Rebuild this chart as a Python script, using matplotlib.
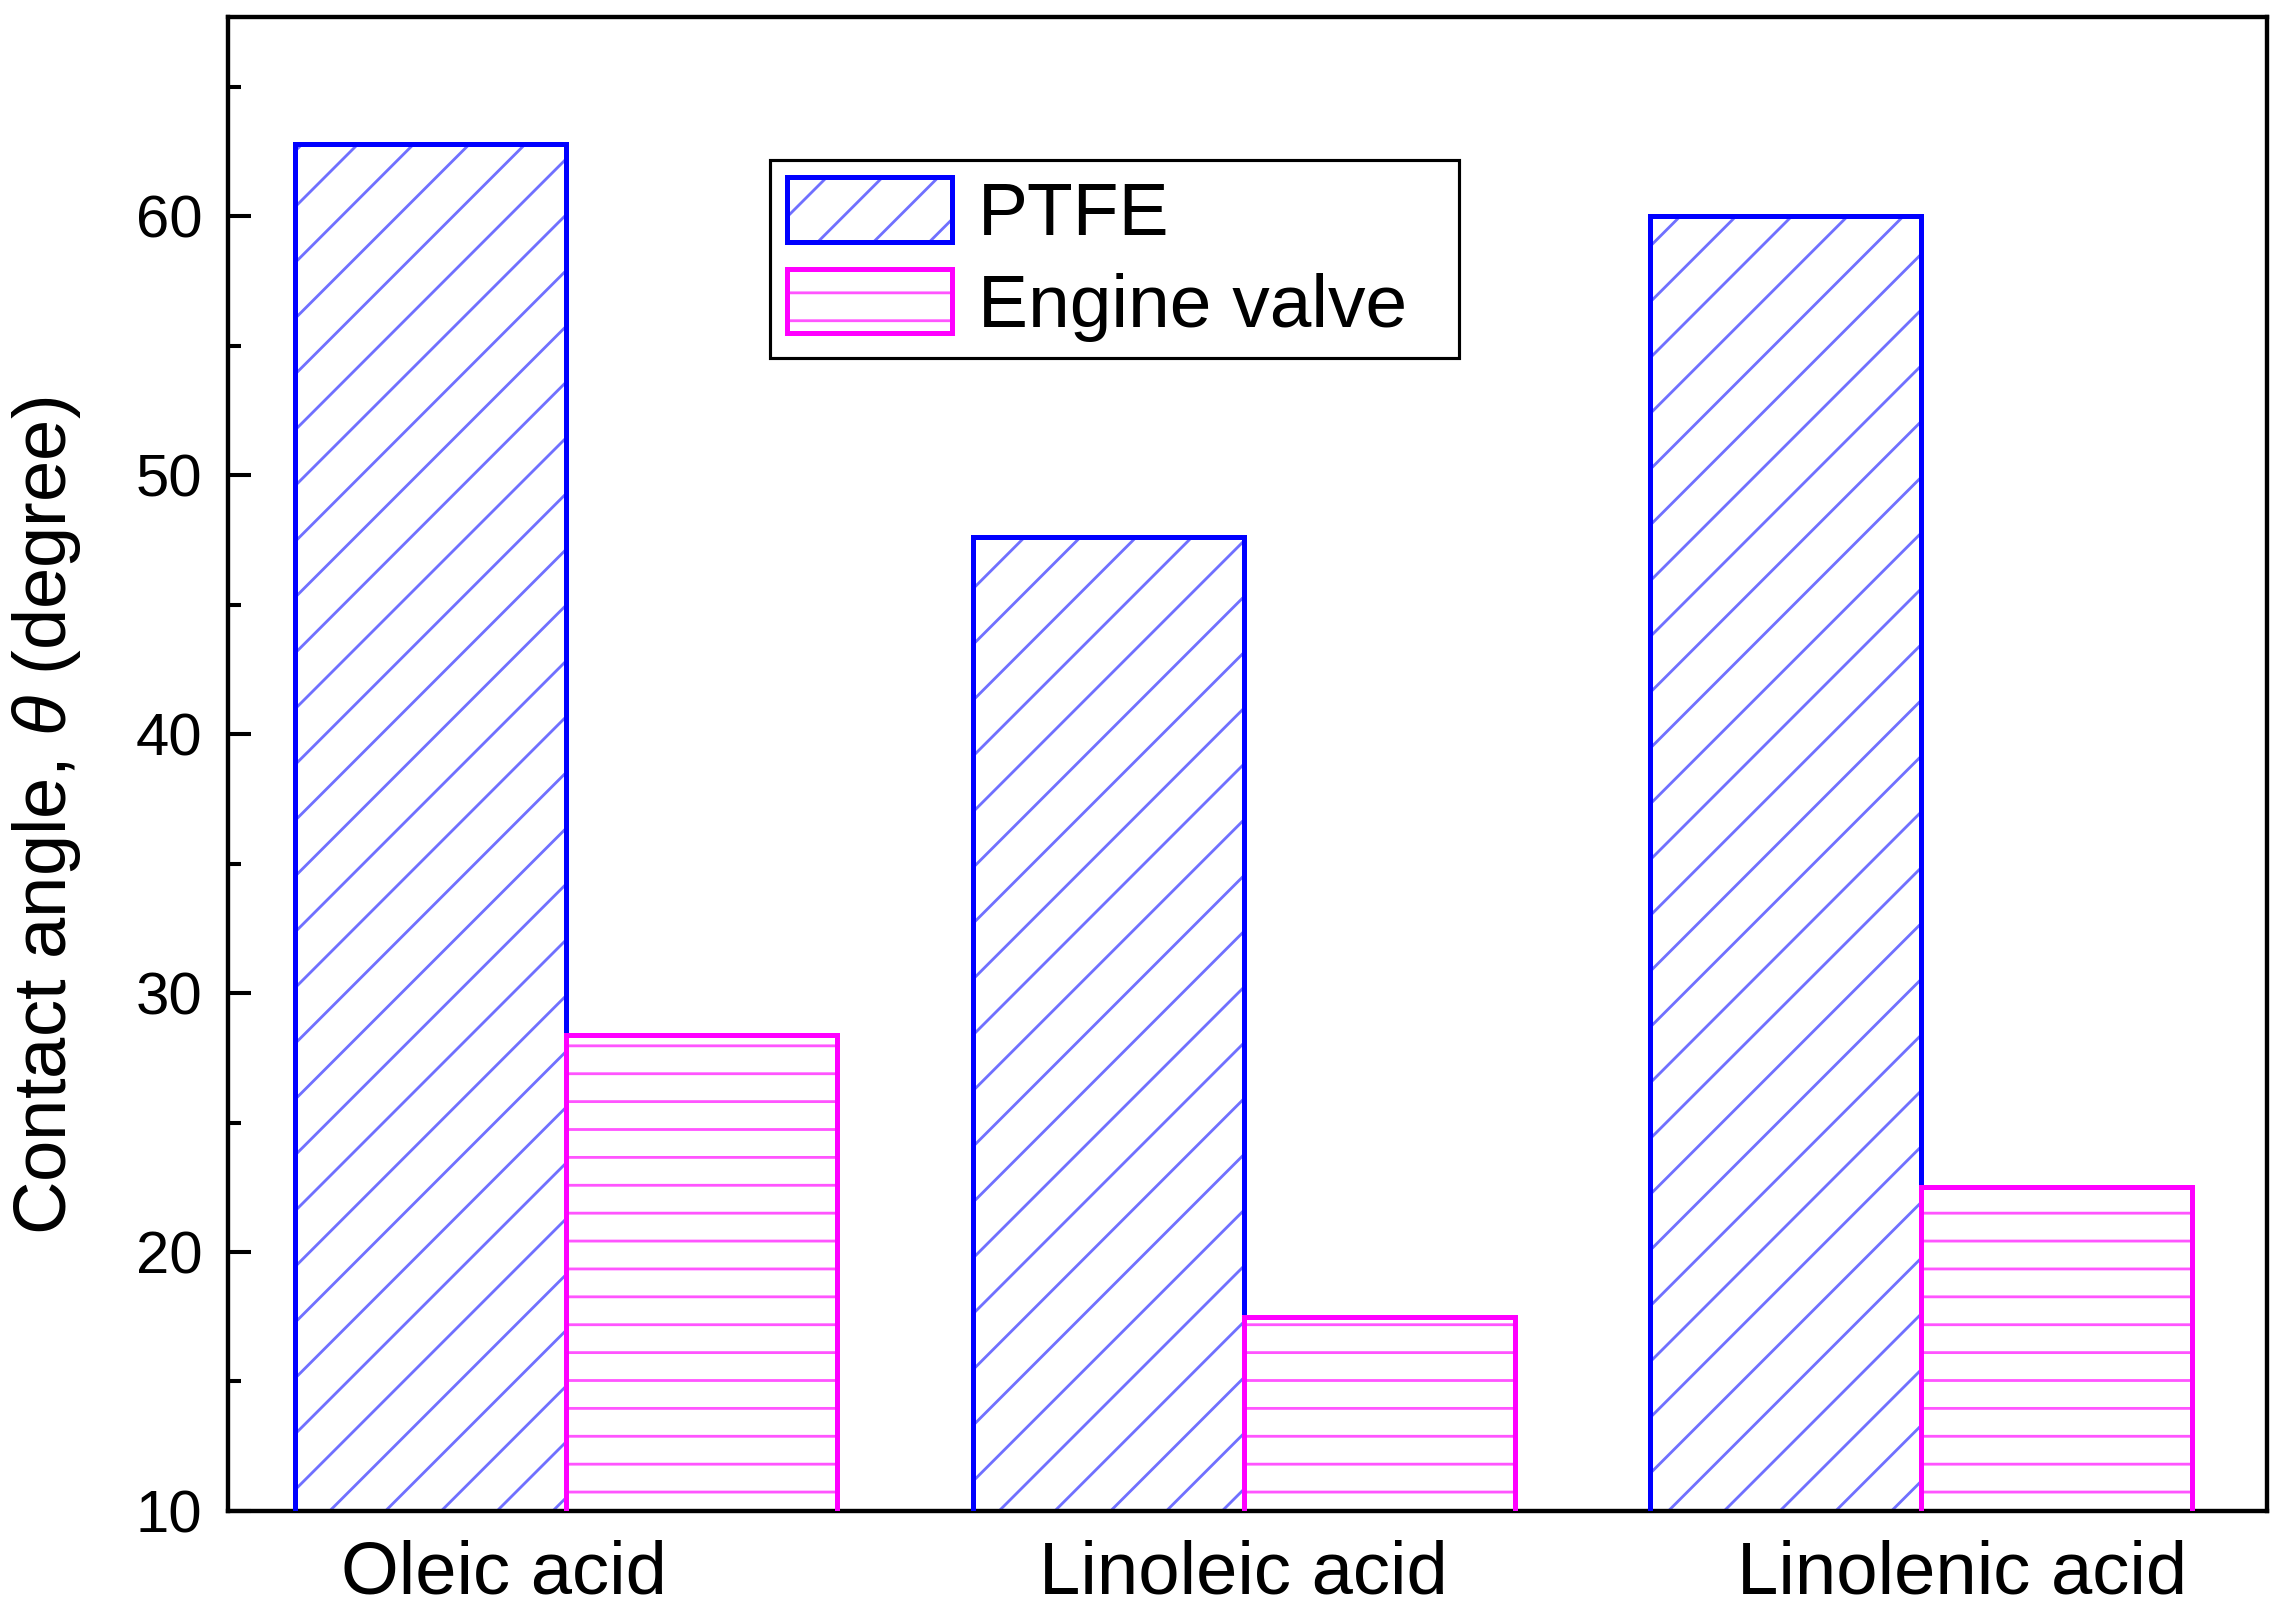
import matplotlib
matplotlib.use("Agg")
import matplotlib.pyplot as plt
import matplotlib.transforms as mtransforms
import numpy as np
from matplotlib.ticker import MultipleLocator

categories = ["Oleic acid", "Linoleic acid", "Linolenic acid"]
series_names = ["PTFE", "Engine valve"]
ptfe = [62.8, 47.6, 60.0]
engine_valve = [28.4, 17.5, 22.5]

DPI = 502
S = 225 / DPI   # point sizes below were tuned for 225 dpi

plt.rcParams['font.family'] = ['Liberation Sans', 'DejaVu Sans']
plt.rcParams['mathtext.fontset'] = 'custom'
plt.rcParams['mathtext.it'] = 'Liberation Sans:italic'
plt.rcParams['mathtext.rm'] = 'Liberation Sans'
plt.rcParams['hatch.linewidth'] = 0.9 * S

fig = plt.figure(figsize=(2276 / DPI, 1616 / DPI), dpi=DPI)
ax = fig.add_axes([0.100, 0.065, 0.896, 0.9245])

x = np.arange(len(categories))
w = 0.4

h1 = ax.bar(x - w / 2, ptfe, width=w, facecolor='white', edgecolor='#7070ff',
            hatch='///', linewidth=0, zorder=2)
e1 = ax.bar(x - w / 2, ptfe, width=w, facecolor='none', edgecolor='#0000ff',
            linewidth=1.6 * S, zorder=3)
h2 = ax.bar(x + w / 2, engine_valve, width=w, facecolor='white', edgecolor='#ff55ff',
            hatch='---', linewidth=0, zorder=2)
e2 = ax.bar(x + w / 2, engine_valve, width=w, facecolor='none', edgecolor='#ff00ff',
            linewidth=1.6 * S, zorder=3)

ax.set_xlim(-0.5, 2.51)
ax.set_ylim(10, 67.7)
ax.set_xticks(x)
ax.set_xticklabels(categories, fontsize=23.8 * S)
ax.tick_params(axis='x', length=0, pad=9 * S)
# small horizontal shifts of the category labels as in the original
for lab, dx in zip(ax.get_xticklabels(), [-20, 0, 13]):
    lab.set_transform(lab.get_transform() +
                      mtransforms.ScaledTranslation(dx * S / 72, 0, fig.dpi_scale_trans))
ax.yaxis.set_major_locator(MultipleLocator(10))
ax.yaxis.set_minor_locator(MultipleLocator(5))
ax.tick_params(axis='y', which='major', direction='in', length=7.4 * S, width=1.3 * S,
               labelsize=19.2 * S, pad=8 * S)
ax.tick_params(axis='y', which='minor', direction='in', length=4.2 * S, width=1.3 * S)
for s in ax.spines.values():
    s.set_linewidth(1.4 * S)

ax.set_ylabel("Contact angle, $\\mathit{\\theta}$ (degree)", fontsize=23.8 * S)
ax.yaxis.set_label_coords(-0.071, 0.465)

leg = ax.legend([(h1[0], e1[0]), (h2[0], e2[0])], series_names,
                loc='upper left', bbox_to_anchor=(0.266, 0.904, 0.338, 0),
                mode='expand', borderaxespad=0, fontsize=24 * S,
                fancybox=False, shadow=False, edgecolor='black', framealpha=1,
                handlelength=2.2, handleheight=0.95, handletextpad=0.35,
                labelspacing=0.25, borderpad=0.22)
leg.get_frame().set_linewidth(1.0 * S)

fig.savefig("out.png", dpi=DPI)
